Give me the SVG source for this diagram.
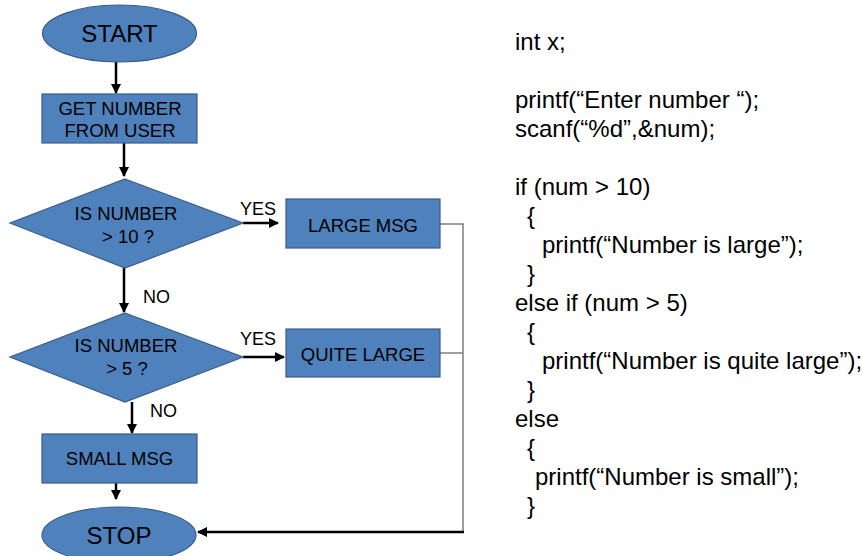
<svg xmlns="http://www.w3.org/2000/svg" width="862" height="556" viewBox="0 0 862 556">
  <style>
    .shape { fill: #4F81BD; stroke: #385D8A; stroke-width: 1.2; }
    .lbl { font-family: "Liberation Sans", Arial, sans-serif; font-size: 18.5px; fill: #000; text-anchor: middle; }
    .big { font-size: 24px; }
    .tag { font-family: "Liberation Sans", Arial, sans-serif; font-size: 18px; fill: #000; }
    .flow { stroke: #000; stroke-width: 2.5; fill: none; marker-end: url(#arrow); }
    .join { stroke: #7F7F7F; stroke-width: 1.5; fill: none; }
    .code { font-family: "Liberation Sans", Arial, sans-serif; font-size: 24px; fill: #000; }
  </style>
  <defs>
    <marker id="arrow" viewBox="0 0 10 10" refX="9" refY="5" markerWidth="4" markerHeight="4" orient="auto" markerUnits="strokeWidth">
      <path d="M0,0 L10,5 L0,10 Z" fill="#000"/>
    </marker>
  </defs>
  <rect width="862" height="556" fill="#fff"/>

  <!-- connectors -->
  <g id="connectors">
    <line class="flow" x1="116" y1="62" x2="116" y2="93"/>
    <line class="flow" x1="124" y1="143" x2="124" y2="176"/>
    <line class="flow" x1="243" y1="223" x2="278" y2="223"/>
    <line class="flow" x1="124" y1="268" x2="124" y2="312"/>
    <line class="flow" x1="243" y1="357" x2="284" y2="357"/>
    <line class="flow" x1="132" y1="402" x2="132" y2="433"/>
    <line class="flow" x1="116" y1="483" x2="116" y2="499"/>
    <polyline class="join" points="440,224 463,224 463,532"/>
    <line class="join" x1="440" y1="353" x2="463" y2="353"/>
    <line class="flow" x1="464" y1="532" x2="198" y2="532"/>
    <text class="tag" x="240" y="215">YES</text>
    <text class="tag" x="240" y="345">YES</text>
    <text class="tag" x="143" y="303">NO</text>
    <text class="tag" x="150" y="417">NO</text>
  </g>

  <!-- flowchart nodes -->
  <g id="start">
    <ellipse class="shape" cx="119.5" cy="33.5" rx="77" ry="28.5"/>
    <text class="lbl big" x="119.5" y="42">START</text>
  </g>
  <g id="get-number">
    <rect class="shape" x="42" y="94" width="155" height="49"/>
    <text class="lbl" x="120" y="115">GET NUMBER</text>
    <text class="lbl" x="120" y="137">FROM USER</text>
  </g>
  <g id="check-10">
    <polygon class="shape" points="125,179 243,223 125,268 10,223"/>
    <text class="lbl" x="126" y="220">IS NUMBER</text>
    <text class="lbl" x="128" y="243">&gt; 10 ?</text>
  </g>
  <g id="large-msg">
    <rect class="shape" x="286" y="199" width="154" height="49"/>
    <text class="lbl" x="363" y="232">LARGE MSG</text>
  </g>
  <g id="check-5">
    <polygon class="shape" points="125,313 243,357 125,402 10,357"/>
    <text class="lbl" x="126" y="352">IS NUMBER</text>
    <text class="lbl" x="127" y="375">&gt; 5 ?</text>
  </g>
  <g id="quite-large">
    <rect class="shape" x="286" y="329" width="154" height="48"/>
    <text class="lbl" x="363" y="361">QUITE LARGE</text>
  </g>
  <g id="small-msg">
    <rect class="shape" x="42" y="434" width="155" height="49"/>
    <text class="lbl" x="119.5" y="465">SMALL MSG</text>
  </g>
  <g id="stop">
    <ellipse class="shape" cx="119" cy="535" rx="77" ry="28"/>
    <text class="lbl big" x="119" y="544">STOP</text>
  </g>

  <!-- C source listing -->
  <g id="code">
    <text class="code" x="515" y="50">int x;</text>
    <text class="code" x="515" y="108">printf(“Enter number “);</text>
    <text class="code" x="515" y="137">scanf(“%d”,&amp;num);</text>
    <text class="code" x="515" y="195">if (num &gt; 10)</text>
    <text class="code" x="527" y="224">{</text>
    <text class="code" x="542" y="253">printf(“Number is large”);</text>
    <text class="code" x="527" y="282">}</text>
    <text class="code" x="515" y="311">else if (num &gt; 5)</text>
    <text class="code" x="527" y="340">{</text>
    <text class="code" x="542" y="369">printf(“Number is quite large”);</text>
    <text class="code" x="527" y="398">}</text>
    <text class="code" x="515" y="427">else</text>
    <text class="code" x="527" y="456">{</text>
    <text class="code" x="535" y="485">printf(“Number is small”);</text>
    <text class="code" x="527" y="514">}</text>
  </g>
</svg>
